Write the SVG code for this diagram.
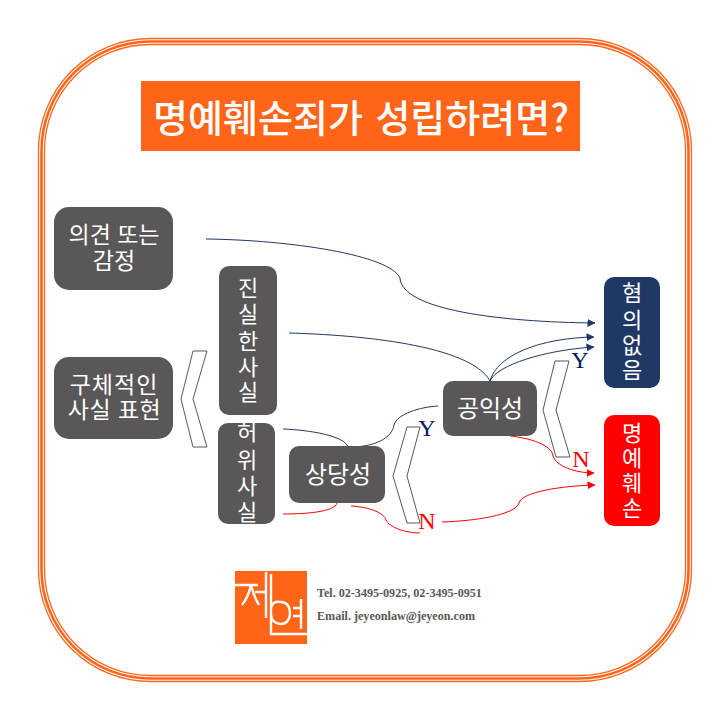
<svg xmlns="http://www.w3.org/2000/svg" width="720" height="720" viewBox="0 0 720 720">
<defs>
<style>
text{font-family:"Liberation Sans","Noto Sans CJK KR",sans-serif;text-anchor:middle}
#title text{font-family:"Noto Sans CJK KR","Noto Sans",sans-serif}
.n{fill:#595757}
.l{fill:#fff;font-size:23px}
.w{fill:#fff;font-size:24px}
.s{fill:#fff;font-size:22px}
.f{fill:none;stroke:#ff6519}
.c{fill:none;stroke-width:1}
.b{stroke:#1f3864}
.r{stroke:#ff0000}
.v{fill:#fff;stroke:#595757;stroke-width:1}
text.m{font-family:"Liberation Serif",serif;font-size:24px}
text.t{font-family:"Liberation Serif",serif;font-size:12.1px;font-weight:bold;fill:#595757;text-anchor:start}
</style>
<marker id="ab" viewBox="0 0 8 8" refX="7.5" refY="4" markerWidth="8" markerHeight="8" markerUnits="userSpaceOnUse" orient="auto"><path d="M0 0L8 4L0 8z" fill="#1f3864"/></marker>
<marker id="ar" viewBox="0 0 8 8" refX="7.5" refY="4" markerWidth="8" markerHeight="8" markerUnits="userSpaceOnUse" orient="auto"><path d="M0 0L8 4L0 8z" fill="#ff0000"/></marker>
</defs>
<rect width="720" height="720" fill="#fefefe"/>
<g id="frame">
<rect class="f" x="38.5" y="38.5" width="653" height="643" rx="112" stroke-width="1.3"/>
<rect class="f" x="41.5" y="41.5" width="647" height="637" rx="109" stroke-width="2.6"/>
<rect class="f" x="44.5" y="44.5" width="641" height="631" rx="106" stroke-width="1.3"/>
</g>
<g id="title"><rect x="141" y="81" width="439" height="70" fill="#ff6519"/>
<text x="361" y="132" font-size="38" font-weight="500" word-spacing="4" fill="#fff">명예훼손죄가 성립하려면?</text></g>
<g id="connectors">
<path class="c b" marker-end="url(#ab)" d="M206 239C290 240 390 255 400 278C402 310 500 322 595 323"/>
<path class="c b" d="M289 333C360 335 470 345 490 381"/>
<path class="c b" marker-end="url(#ab)" d="M490 381C497 355 540 338 594 337"/>
<path class="c b" marker-end="url(#ab)" d="M490 381C497 365 545 350 594 347"/>
<path class="c b" d="M283 429C310 430 345 436 348 447"/>
<path class="c b" d="M350 447C375 447 392 438 394 425C397 414 420 407 438 406"/>
<path class="c r" d="M283 514C305 514 335 512 337 503"/>
<path class="c r" d="M351 506C370 507 384 513 386 520C389 527 405 533 420 533"/>
<path class="c r" marker-end="url(#ar)" d="M442 522C475 521 515 515 519 503C522 492 560 486 595 485"/>
<path class="c r" marker-end="url(#ar)" d="M510 436C530 438 552 445 553 456C556 466 575 473 594 473"/>
</g>
<g id="chevrons">
<polygon class="v" points="193,351 207,351 193,399 207,447 193,447 181,399"/>
<polygon class="v" points="407,427 420,427 407,476 420,523 407,523 393,476"/>
<polygon class="v" points="555,361 569,361 556,410 570,457 556,457 543,410"/>
</g>
<g id="n1"><rect class="n" x="54" y="207" width="119" height="83" rx="15"/><text class="l"><tspan x="114" y="243">의견 또는</tspan><tspan x="114" y="269">감정</tspan></text></g>
<g id="n2"><rect class="n" x="54" y="357" width="119" height="82" rx="15"/><text class="l"><tspan x="114" y="393" letter-spacing="1">구체적인</tspan><tspan x="114.500" y="418" letter-spacing="0.5">사실 표현</tspan></text></g>
<g id="n3"><rect class="n" x="219" y="266" width="58" height="149" rx="10"/>
<text class="s"><tspan x="248" y="296">진</tspan><tspan x="248" y="322">실</tspan><tspan x="248" y="349">한</tspan><tspan x="248" y="375">사</tspan><tspan x="248" y="400">실</tspan></text></g>
<g id="n4"><rect class="n" x="218" y="423" width="57" height="101" rx="10"/>
<text class="s"><tspan x="247" y="440">허</tspan><tspan x="247" y="468">위</tspan><tspan x="247" y="494">사</tspan><tspan x="247" y="520">실</tspan></text></g>
<g id="n5"><rect class="n" x="289" y="446" width="96" height="57" rx="10"/><text class="w" x="338" y="483">상당성</text></g>
<g id="n6"><rect class="n" x="443" y="381" width="94" height="55" rx="10"/><text class="w" x="490" y="417">공익성</text></g>
<g id="n7"><rect x="604" y="277" width="56" height="111" rx="10" fill="#1f3864"/>
<text class="s"><tspan x="632" y="301">혐</tspan><tspan x="632" y="328">의</tspan><tspan x="632" y="353">없</tspan><tspan x="632" y="378">음</tspan></text></g>
<g id="n8"><rect x="604" y="415" width="56" height="111" rx="10" fill="#ff0000"/>
<text class="s"><tspan x="632" y="441">명</tspan><tspan x="632" y="466">예</tspan><tspan x="632" y="491">훼</tspan><tspan x="632" y="516">손</tspan></text></g>
<g id="marks">
<text class="m" x="580" y="368" fill="#002060">Y</text><text class="m" x="427" y="436" fill="#002060">Y</text>
<text class="m" x="581" y="467" fill="#ff0000">N</text><text class="m" x="427" y="529" fill="#ff0000">N</text></g>
<g id="logo"><rect x="235" y="571" width="72" height="73" fill="#ff6519"/>
<path d="M235 585H258M251 585C249 594 246 600 242 605M251 585C253 594 256 600 259 605M255 592H266M266 572V618M271 574V634H307M271 608C273 600 278 602 281 602C287 602 290 607 290 613C290 620 286 624 281 624C275 624 271 620 271 614M293 608H301M293 616H301M301 599V629" fill="none" stroke="#fff" stroke-width="2.4"/></g>
<g id="contact"><text class="t" x="317" y="597">Tel. 02-3495-0925, 02-3495-0951</text><text class="t" x="317" y="620">Email. jeyeonlaw@jeyeon.com</text></g>
</svg>
